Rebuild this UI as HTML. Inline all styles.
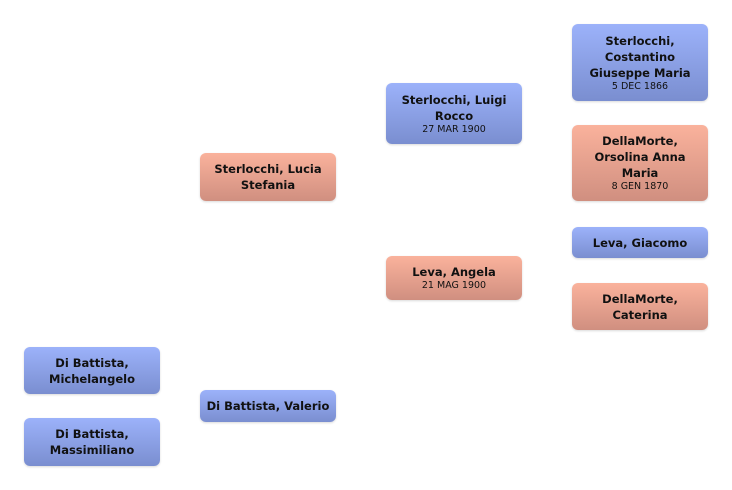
<!DOCTYPE html>
<html><head><style>
body{margin:0;width:732px;height:490px;background:#fff;position:relative;font-family:"DejaVu Sans","Liberation Sans",sans-serif;}
.b{position:absolute;width:136px;border-radius:6px;box-sizing:border-box;display:flex;flex-direction:column;justify-content:center;align-items:center;text-align:center;color:#111;box-shadow:0 1px 2px rgba(0,0,0,.15)}
.m{background:linear-gradient(#9cb2fa,#7a8ed0)}
.f{background:linear-gradient(#fab29c,#d08f80)}
.n{font-weight:bold;font-size:11.5px;line-height:16px;padding:0 6px}
.d{font-size:9.5px;line-height:12px}
</style></head><body>
<div class="b m" style="left:572px;top:24px;height:77px"><div class="n">Sterlocchi, Costantino Giuseppe Maria</div><div class="d">5 DEC 1866</div></div>
<div class="b m" style="left:386px;top:83px;height:61px"><div class="n">Sterlocchi, Luigi Rocco</div><div class="d">27 MAR 1900</div></div>
<div class="b f" style="left:572px;top:125px;height:76px"><div class="n">DellaMorte, Orsolina Anna Maria</div><div class="d">8 GEN 1870</div></div>
<div class="b f" style="left:200px;top:153px;height:48px"><div class="n">Sterlocchi, Lucia Stefania</div></div>
<div class="b m" style="left:572px;top:227px;height:31px"><div class="n">Leva, Giacomo</div></div>
<div class="b f" style="left:386px;top:256px;height:44px"><div class="n">Leva, Angela</div><div class="d">21 MAG 1900</div></div>
<div class="b f" style="left:572px;top:283px;height:47px"><div class="n">DellaMorte, Caterina</div></div>
<div class="b m" style="left:24px;top:347px;height:47px"><div class="n">Di Battista, Michelangelo</div></div>
<div class="b m" style="left:200px;top:390px;height:32px"><div class="n">Di Battista, Valerio</div></div>
<div class="b m" style="left:24px;top:418px;height:48px"><div class="n">Di Battista, Massimiliano</div></div>
</body></html>
